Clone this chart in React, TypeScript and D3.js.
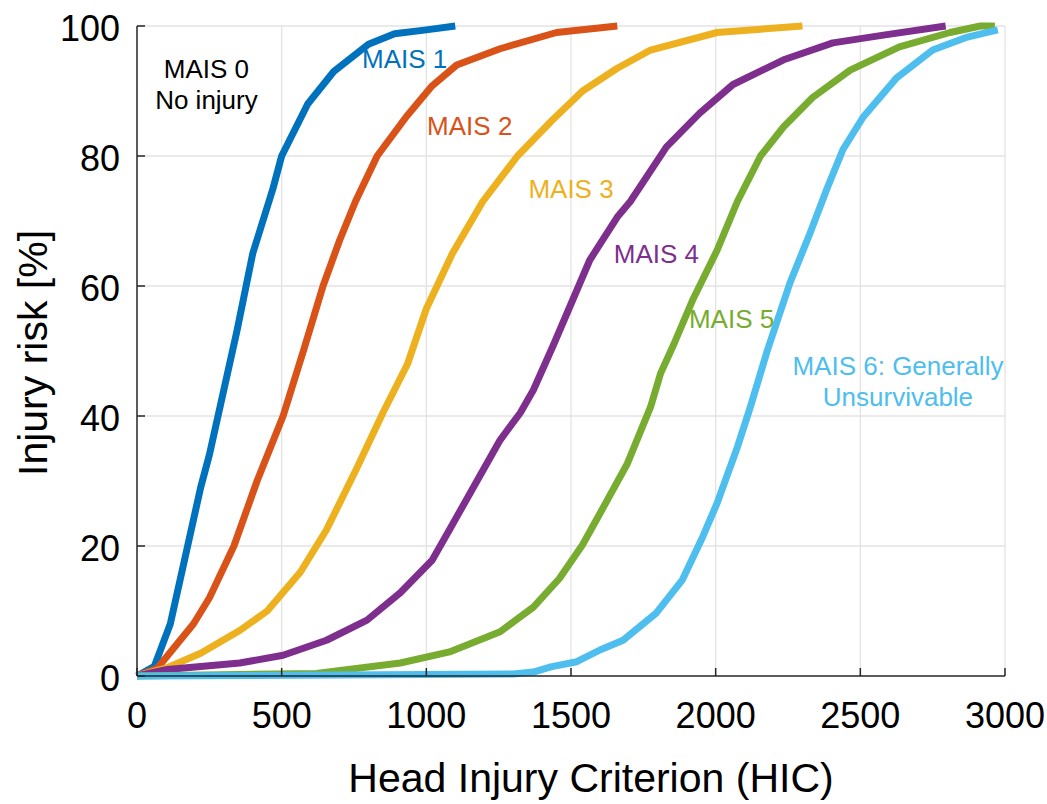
import React from "react";
import * as d3 from "d3";

type Pt = [number, number];

const xTicks = [0, 500, 1000, 1500, 2000, 2500, 3000];
const yTicks = [0, 20, 40, 60, 80, 100];

const mais1: Pt[] = [
  [0, 0], [60, 1.5], [115, 8], [175, 20], [220, 29], [250, 34], [300, 44], [345, 53],
  [400, 65], [470, 75], [500, 80], [590, 88], [680, 93], [800, 97.2], [890, 98.8], [1000, 99.4], [1100, 100],
];
const mais2: Pt[] = [
  [0, 0], [70, 1.2], [195, 8], [250, 12], [335, 20], [415, 30], [505, 40], [575, 50], [643, 60],
  [700, 67], [755, 73], [830, 80], [930, 86], [1020, 90.8], [1105, 94], [1255, 96.5], [1450, 99], [1660, 100],
];
const mais3: Pt[] = [
  [0, 0], [100, 1.2], [220, 3.5], [355, 7], [450, 10], [565, 16], [655, 22.5], [760, 32], [850, 40.5],
  [935, 48], [1000, 56.5], [1090, 65], [1195, 73], [1315, 80], [1435, 85.5], [1540, 90], [1660, 93.5],
  [1775, 96.3], [2005, 99], [2300, 100],
];
const mais4: Pt[] = [
  [0, 0], [105, 1], [355, 2], [505, 3.2], [655, 5.5], [795, 8.6], [910, 12.8], [1020, 17.8], [1080, 22.5],
  [1175, 30], [1255, 36.3], [1325, 40.5], [1370, 44], [1440, 51], [1565, 64], [1660, 70.6], [1705, 73],
  [1830, 81.4], [1945, 86.6], [2060, 91], [2235, 94.8], [2405, 97.4], [2580, 98.6], [2795, 100],
];
const mais5: Pt[] = [
  [0, 0], [620, 0.4], [910, 2], [1080, 3.7], [1255, 6.8], [1370, 10.6], [1460, 15], [1540, 20.2],
  [1600, 25], [1695, 32.7], [1775, 41.4], [1810, 46.6], [1855, 51], [1920, 57.8], [2005, 65.5],
  [2075, 73], [2155, 80], [2235, 84.5], [2335, 89], [2465, 93.2], [2635, 96.8], [2810, 99], [2915, 100], [2965, 100],
];
const mais6: Pt[] = [
  [0, 0], [1300, 0.3], [1370, 0.6], [1430, 1.4], [1520, 2.2], [1600, 4], [1680, 5.5], [1795, 9.7],
  [1885, 14.8], [1955, 21.4], [2005, 26.6], [2075, 35.2], [2120, 41.4], [2178, 50], [2257, 60.5],
  [2325, 68], [2385, 75], [2440, 81], [2510, 86], [2625, 92], [2750, 96.3], [2870, 98.3], [2975, 99.4],
];

const seriesData = [mais1, mais2, mais3, mais4, mais5, mais6];
const seriesColors = ["#0072BD", "#D95319", "#EDB120", "#7E2F8E", "#77AC30", "#4DBEEE"];

const labelLines: string[][] = [
  ["MAIS 0", "No injury"],
  ["MAIS 1"],
  ["MAIS 2"],
  ["MAIS 3"],
  ["MAIS 4"],
  ["MAIS 5"],
  ["MAIS 6: Generally", "Unsurvivable"],
];
const labelColors = ["#000000", "#0072BD", "#D95319", "#EDB120", "#7E2F8E", "#77AC30", "#4DBEEE"];
const labelHic = [240, 925, 1150, 1500, 1795, 2055, 2630];
const labelRisk = [92, 93.5, 83.3, 73.5, 63.5, 53.5, 46.3];

const FONT = "'Liberation Sans', Arial, Helvetica, sans-serif";

export default function App() {
  const W = 1047;
  const H = 804;
  const left = 137, right = 1005, top = 26, bottom = 676;
  const x = d3.scaleLinear().domain([0, 3000]).range([left, right]);
  const y = d3.scaleLinear().domain([0, 100]).range([bottom, top]);
  const line = d3.line<Pt>().x((d) => x(d[0])).y((d) => y(d[1]));
  const axisColor = "#262626";
  const gridColor = "#e3e3e3";

  return (
    <svg width={W} height={H} style={{ position: "absolute", left: 0, top: 0, background: "#fff" }}>
      <rect x={0} y={0} width={W} height={H} fill="#fff" />
      {xTicks.filter((t) => t > 0).map((t) => (
        <line key={"gx" + t} x1={x(t)} x2={x(t)} y1={top} y2={bottom} stroke={gridColor} strokeWidth={1.3} />
      ))}
      {yTicks.filter((t) => t > 0).map((t) => (
        <line key={"gy" + t} x1={left} x2={right} y1={y(t)} y2={y(t)} stroke={gridColor} strokeWidth={1.3} />
      ))}
      {seriesData.map((s, i) => (
        <path key={"s" + i} d={line(s) || ""} fill="none" stroke={seriesColors[i]} strokeWidth={7} strokeLinejoin="round" />
      ))}
      <line x1={left} x2={left} y1={top} y2={bottom} stroke={axisColor} strokeWidth={1.5} />
      <line x1={left} x2={right} y1={bottom} y2={bottom} stroke={axisColor} strokeWidth={1.5} />
      {xTicks.map((t) => (
        <line key={"tx" + t} x1={x(t)} x2={x(t)} y1={bottom} y2={bottom - 8} stroke={axisColor} strokeWidth={1.5} />
      ))}
      {yTicks.map((t) => (
        <line key={"ty" + t} x1={left} x2={left + 8} y1={y(t)} y2={y(t)} stroke={axisColor} strokeWidth={1.5} />
      ))}
      {xTicks.map((t) => (
        <text key={"lx" + t} x={x(t)} y={bottom + 52} textAnchor="middle" fontFamily={FONT} fontSize={36} fill="#000">
          {t}
        </text>
      ))}
      {yTicks.map((t) => (
        <text key={"ly" + t} x={left - 17} y={y(t) + 15} textAnchor="end" fontFamily={FONT} fontSize={36} fill="#000">
          {t}
        </text>
      ))}
      <text x={591} y={792} textAnchor="middle" fontFamily={FONT} fontSize={41} fill="#000">
        Head Injury Criterion (HIC)
      </text>
      <text transform="translate(47,353) rotate(-90)" textAnchor="middle" fontFamily={FONT} fontSize={41} fill="#000">
        Injury risk [%]
      </text>
      {labelLines.map((lines, i) => (
        <text key={"an" + i} x={x(labelHic[i])} y={y(labelRisk[i])} textAnchor="middle" fontFamily={FONT} fontSize={26} fill={labelColors[i]}>
          {lines.map((ln, j) => (
            <tspan key={j} x={x(labelHic[i])} dy={j === 0 ? 0 : 31}>
              {ln}
            </tspan>
          ))}
        </text>
      ))}
    </svg>
  );
}
